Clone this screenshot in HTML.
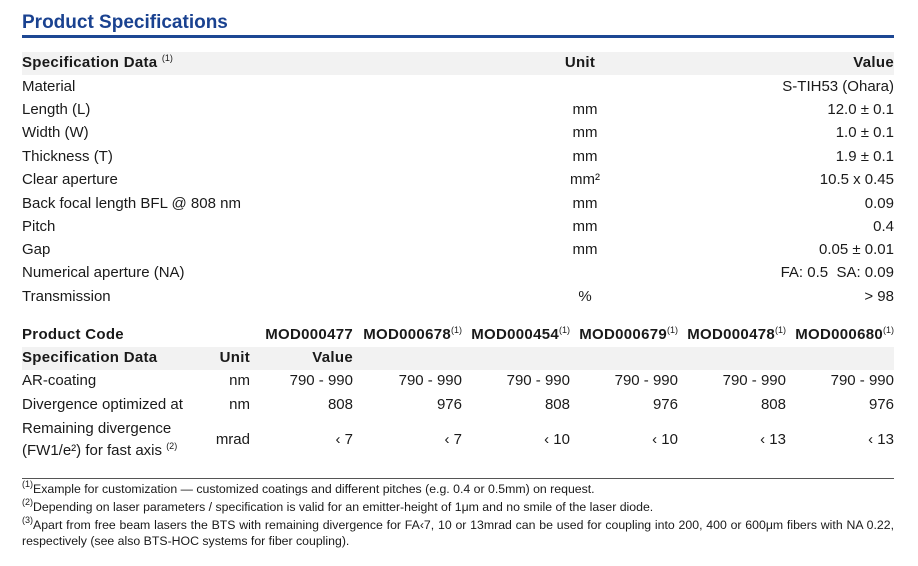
<!DOCTYPE html>
<html><head><meta charset="utf-8"><style>
body{margin:0;width:918px;height:566px;background:#fff;font-family:"Liberation Sans",sans-serif;color:#1a1a1a;position:relative;overflow:hidden}
.a{position:absolute;white-space:nowrap;font-size:15px;line-height:18px}
.b{font-weight:bold;letter-spacing:0.3px}
.r{text-align:right}
.c{text-align:center}
sup{font-size:9px;vertical-align:6px;font-weight:normal;line-height:0;letter-spacing:0}
.f{position:absolute;left:22px;font-size:12.3px;line-height:16px;white-space:nowrap}
</style></head><body>
<div class="a" style="left:22px;top:11px;font-size:19px;line-height:24px;color:#1a4290;font-weight:bold">Product Specifications</div>
<div style="position:absolute;left:22px;top:35px;width:872px;height:3px;background:#1d4793"></div>
<div style="position:absolute;left:22px;top:52px;width:872px;height:23px;background:#f2f2f2"></div>
<div class="a b" style="left:22px;top:54px">Specification Data <sup>(1)</sup></div>
<div class="a b c" style="left:540px;top:54px;width:80px">Unit</div>
<div class="a b r" style="right:24px;top:54px">Value</div>

<div class="a" style="left:22px;top:78px">Material</div><div class="a r" style="right:24px;top:78px">S-TIH53 (Ohara)</div>
<div class="a" style="left:22px;top:101px">Length (L)</div><div class="a c" style="left:545px;width:80px;top:101px">mm</div><div class="a r" style="right:24px;top:101px">12.0 ± 0.1</div>
<div class="a" style="left:22px;top:124px">Width (W)</div><div class="a c" style="left:545px;width:80px;top:124px">mm</div><div class="a r" style="right:24px;top:124px">1.0 ± 0.1</div>
<div class="a" style="left:22px;top:148px">Thickness (T)</div><div class="a c" style="left:545px;width:80px;top:148px">mm</div><div class="a r" style="right:24px;top:148px">1.9 ± 0.1</div>
<div class="a" style="left:22px;top:171px">Clear aperture</div><div class="a c" style="left:545px;width:80px;top:171px">mm²</div><div class="a r" style="right:24px;top:171px">10.5 x 0.45</div>
<div class="a" style="left:22px;top:195px">Back focal length BFL @ 808 nm</div><div class="a c" style="left:545px;width:80px;top:195px">mm</div><div class="a r" style="right:24px;top:195px">0.09</div>
<div class="a" style="left:22px;top:218px">Pitch</div><div class="a c" style="left:545px;width:80px;top:218px">mm</div><div class="a r" style="right:24px;top:218px">0.4</div>
<div class="a" style="left:22px;top:241px">Gap</div><div class="a c" style="left:545px;width:80px;top:241px">mm</div><div class="a r" style="right:24px;top:241px">0.05 ± 0.01</div>
<div class="a" style="left:22px;top:264px">Numerical aperture (NA)</div><div class="a r" style="right:24px;top:264px">FA: 0.5&nbsp; SA: 0.09</div>
<div class="a" style="left:22px;top:288px">Transmission</div><div class="a c" style="left:545px;width:80px;top:288px">%</div><div class="a r" style="right:24px;top:288px">&gt; 98</div>

<div class="a b" style="left:22px;top:326px">Product Code</div>
<div class="a b r" style="right:565px;top:326px">MOD000477</div>
<div class="a b r" style="right:456px;top:326px">MOD000678<sup>(1)</sup></div>
<div class="a b r" style="right:348px;top:326px">MOD000454<sup>(1)</sup></div>
<div class="a b r" style="right:240px;top:326px">MOD000679<sup>(1)</sup></div>
<div class="a b r" style="right:132px;top:326px">MOD000478<sup>(1)</sup></div>
<div class="a b r" style="right:24px;top:326px">MOD000680<sup>(1)</sup></div>
<div style="position:absolute;left:22px;top:347px;width:872px;height:23px;background:#f2f2f2"></div>
<div class="a b" style="left:22px;top:349px">Specification Data</div>
<div class="a b r" style="right:668px;top:349px">Unit</div>
<div class="a b r" style="right:565px;top:349px">Value</div>

<div class="a" style="left:22px;top:372px">AR-coating</div><div class="a r" style="right:668px;top:372px">nm</div>
<div class="a" style="left:22px;top:396px">Divergence optimized at</div><div class="a r" style="right:668px;top:396px">nm</div>
<div class="a" style="left:22px;top:420px">Remaining divergence</div>
<div class="a" style="left:22px;top:442px">(FW1/e²) for fast axis <sup>(2)</sup></div>
<div class="a r" style="right:668px;top:431px">mrad</div>

<div class="a r" style="right:565px;top:372px">790 - 990</div><div class="a r" style="right:565px;top:396px">808</div><div class="a r" style="right:565px;top:431px">‹ 7</div>
<div class="a r" style="right:456px;top:372px">790 - 990</div><div class="a r" style="right:456px;top:396px">976</div><div class="a r" style="right:456px;top:431px">‹ 7</div>
<div class="a r" style="right:348px;top:372px">790 - 990</div><div class="a r" style="right:348px;top:396px">808</div><div class="a r" style="right:348px;top:431px">‹ 10</div>
<div class="a r" style="right:240px;top:372px">790 - 990</div><div class="a r" style="right:240px;top:396px">976</div><div class="a r" style="right:240px;top:431px">‹ 10</div>
<div class="a r" style="right:132px;top:372px">790 - 990</div><div class="a r" style="right:132px;top:396px">808</div><div class="a r" style="right:132px;top:431px">‹ 13</div>
<div class="a r" style="right:24px;top:372px">790 - 990</div><div class="a r" style="right:24px;top:396px">976</div><div class="a r" style="right:24px;top:431px">‹ 13</div>

<div style="position:absolute;left:22px;top:478px;width:872px;height:1px;background:#555"></div>
<div class="f" style="top:481px"><sup>(1)</sup>Example for customization — customized coatings and different pitches (e.g. 0.4 or 0.5mm) on request.</div>
<div class="f" style="top:499px"><sup>(2)</sup>Depending on laser parameters / specification is valid for an emitter-height of 1μm and no smile of the laser diode.</div>
<div class="f" style="top:517px;width:872px;white-space:normal;text-align:justify;text-align-last:left"><sup>(3)</sup>Apart from free beam lasers the BTS with remaining divergence for FA‹7, 10 or 13mrad can be used for coupling into 200, 400 or 600μm fibers with NA 0.22, respectively (see also BTS-HOC systems for fiber coupling).</div>
</body></html>
